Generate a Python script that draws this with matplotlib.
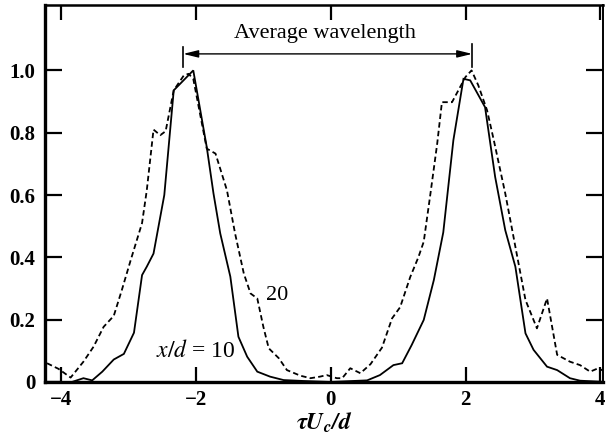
import matplotlib
matplotlib.use("Agg")
import matplotlib.pyplot as plt

# x/d = 10 (solid)
tau10 = [-4.21, -3.84, -3.67, -3.54, -3.39, -3.22, -3.07, -2.92, -2.80, -2.73,
         -2.63, -2.47, -2.33, -2.04, -1.84, -1.74, -1.64, -1.49, -1.37, -1.24,
         -1.09, -0.90, -0.70, -0.40, 0.00, 0.54, 0.73, 0.93, 1.06, 1.20,
         1.38, 1.53, 1.67, 1.82, 1.97, 2.07, 2.29, 2.44, 2.59, 2.74,
         2.89, 3.01, 3.21, 3.36, 3.55, 3.70, 4.05]
corr10 = [0.000, 0.000, 0.012, 0.005, 0.033, 0.072, 0.090, 0.158, 0.343, 0.370,
          0.412, 0.600, 0.936, 1.000, 0.754, 0.605, 0.477, 0.338, 0.145, 0.081,
          0.033, 0.017, 0.006, 0.003, 0.000, 0.005, 0.022, 0.054, 0.060, 0.118,
          0.199, 0.327, 0.480, 0.776, 0.973, 0.968, 0.882, 0.658, 0.487, 0.370,
          0.156, 0.103, 0.049, 0.038, 0.012, 0.004, 0.000]

# x/d = 20 (dashed)
tau20 = [-4.21, -4.04, -3.86, -3.67, -3.52, -3.37, -3.22, -3.10, -2.97, -2.80,
         -2.73, -2.63, -2.53, -2.45, -2.33, -2.18, -2.11, -2.04, -1.84, -1.71,
         -1.54, -1.42, -1.29, -1.19, -1.09, -1.00, -0.92, -0.77, -0.65, -0.45,
         -0.30, -0.16, -0.06, 0.09, 0.17, 0.29, 0.44, 0.59, 0.76, 0.91,
         1.03, 1.18, 1.30, 1.38, 1.48, 1.58, 1.65, 1.80, 2.00, 2.09,
         2.19, 2.32, 2.42, 2.59, 2.74, 2.89, 3.06, 3.21, 3.36, 3.55,
         3.70, 3.85, 3.97, 4.07]
corr20 = [0.060, 0.042, 0.014, 0.065, 0.113, 0.177, 0.212, 0.295, 0.390, 0.510,
          0.615, 0.810, 0.792, 0.805, 0.936, 0.984, 0.989, 0.973, 0.749, 0.733,
          0.615, 0.477, 0.348, 0.284, 0.268, 0.177, 0.108, 0.076, 0.038, 0.020,
          0.012, 0.017, 0.022, 0.012, 0.012, 0.044, 0.028, 0.057, 0.110, 0.204,
          0.240, 0.337, 0.400, 0.450, 0.605, 0.765, 0.898, 0.898, 0.979, 1.000,
          0.952, 0.872, 0.776, 0.605, 0.434, 0.263, 0.172, 0.268, 0.087, 0.065,
          0.054, 0.033, 0.044, 0.033]

xticks = [-4, -2, 0, 2, 4]
yticks = [0, 0.2, 0.4, 0.6, 0.8, 1.0]
ytick_labels = ["0", "0.2", "0.4", "0.6", "0.8", "1.0"]
xtick_labels = ["\u22124", "\u22122", "0", "2", "4"]

# average wavelength marker (peak to peak)
wave_left, wave_right = -2.19, 2.10

plt.rcParams["font.family"] = ["Liberation Serif", "DejaVu Serif"]
plt.rcParams["mathtext.fontset"] = "stix"

fig = plt.figure(figsize=(6.06, 4.37), dpi=100)
ax = fig.add_axes([0.0743, 0.126, 0.9207, 0.8626])

ax.plot(tau10, corr10, color="black", lw=1.3, solid_joinstyle="miter")
ax.plot(tau20, corr20, color="black", lw=1.3, linestyle=(0, (3, 1.8)))

ax.set_xlim(-4.24, 4.04)
ax.set_ylim(0, 1.21)
ax.set_xticks(xticks)
ax.set_xticklabels(xtick_labels)
ax.set_yticks(yticks)
ax.set_yticklabels(ytick_labels)
ax.tick_params(direction="in", top=True, right=True, width=1.6, labelsize=15)
ax.tick_params(axis="x", length=11, pad=6)
ax.tick_params(axis="y", length=12, pad=7)
for lab in ax.get_xticklabels() + ax.get_yticklabels():
    lab.set_fontweight("bold")

for side, w in [("left", 2.4), ("bottom", 2.4), ("top", 1.8), ("right", 1.4)]:
    ax.spines[side].set_linewidth(w)

ax.set_xlabel(r"$\mathbfit{\tau U_c/d}$", fontsize=17)
ax.xaxis.set_label_coords(0.5, -0.076)
ax.xaxis.label.set_va("top")

# average wavelength arrow
ax.annotate("", xy=(wave_left, 1.053), xytext=(wave_right, 1.053),
            arrowprops=dict(arrowstyle="<|-|>,head_length=0.9,head_width=0.22",
                            color="black", lw=1.0, shrinkA=0, shrinkB=0))
ax.plot([wave_left, wave_left], [1.01, 1.075], color="black", lw=1.2)
ax.plot([wave_right, wave_right], [1.01, 1.086], color="black", lw=1.2)
ax.text(-0.08, 1.12, "Average wavelength", ha="center", va="center", fontsize=16)

ax.text(-0.79, 0.279, "20", ha="center", va="center", fontsize=16)
ax.text(-2.0, 0.1, r"$x/d$ = 10", ha="center", va="center", fontsize=17)

fig.savefig("out.png", dpi=100)
